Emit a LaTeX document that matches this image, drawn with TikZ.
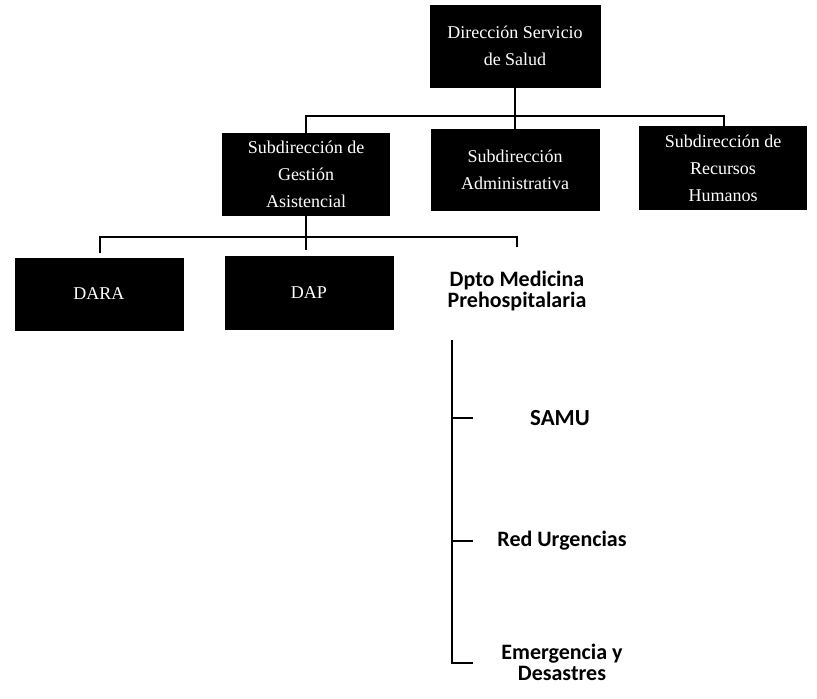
\documentclass[tikz,border=0pt]{standalone}
\usepackage{fontspec}
\setmainfont{Liberation Serif}
\newfontfamily\lightfont{Carlito}
\begin{document}
\begin{tikzpicture}[x=1pt,y=-1pt,
  darkbox/.style={fill=black,draw=black,inner sep=0pt,text=white,align=center,font=\fontsize{18}{27}\selectfont},
  lightbox/.style={inner sep=0pt,text=black,align=center,font=\lightfont\bfseries\fontsize{22}{21}\selectfont},
  conn/.style={line width=2.6pt,black}]
\useasboundingbox (0,0) rectangle (817,699);
% top
\node[darkbox,minimum width=170pt,minimum height=82pt] (top) at (515,46) {Dirección Servicio\\de Salud};
% second row
\node[darkbox,minimum width=167pt,minimum height=82pt] (sga) at (306,174) {Subdirección de\\Gestión\\Asistencial};
\node[darkbox,minimum width=168pt,minimum height=81pt] (sad) at (515,170) {Subdirección\\Administrativa};
\node[darkbox,minimum width=167pt,minimum height=83pt] (srh) at (723,168) {Subdirección de\\Recursos\\Humanos};
% third row
\node[darkbox,minimum width=168pt,minimum height=72pt] (dara) at (99,294) {DARA};
\node[darkbox,minimum width=168pt,minimum height=73pt] (dap) at (309,293) {DAP};
\node[lightbox,minimum width=168pt,minimum height=72pt] (dmp) at (517,291) {Dpto Medicina\\Prehospitalaria};
% fourth level
\node[lightbox,font=\lightfont\bfseries\fontsize{23}{22}\selectfont] (samu) at (560,418) {SAMU};
\node[lightbox] (red) at (562,541) {Red Urgencias};
\node[lightbox] (eme) at (562,662) {Emergencia y\\Desastres};
% connectors level 1
\draw[conn] (top.south) -- (515,132);
\draw[conn] (306,135) -- (306,116) -- (724,116) -- (724,129);
% connectors level 2
\draw[conn] (sga.south) -- (306,250);
\draw[conn] (100,253) -- (100,237) -- (517,237) -- (517,247);
% connectors level 3
\draw[conn] (452,340) -- (452,663) -- (473,663);
\draw[conn] (452,418) -- (473,418);
\draw[conn] (452,541) -- (473,541);
\end{tikzpicture}
\end{document}
